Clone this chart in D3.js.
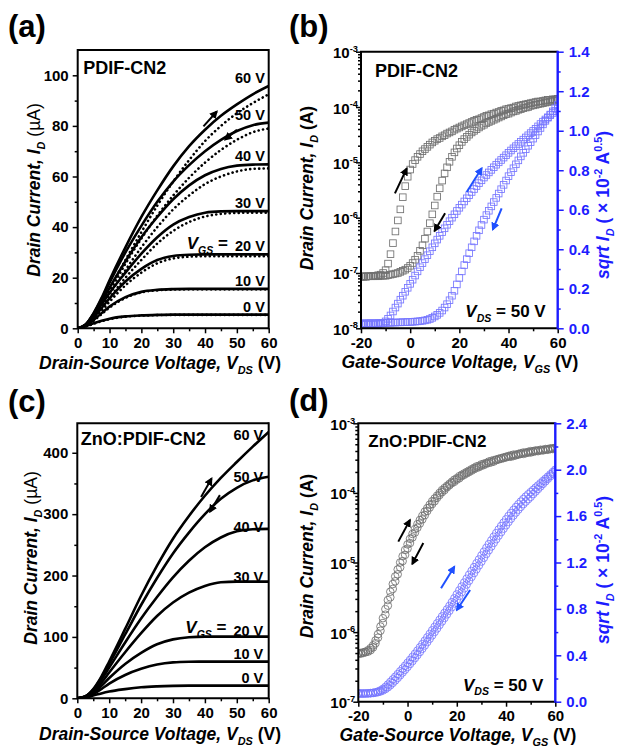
<!DOCTYPE html>
<html>
<head>
<meta charset="utf-8">
<script src="https://cdn.jsdelivr.net/npm/d3@7"></script>
<style>
  body { margin: 0; background: #fff; }
  svg { display: block; }
</style>
</head>
<body>
<svg id="chart" width="618" height="751"></svg>
<script>
// ---------- Output characteristics (panels a, c): I_D (µA) vs V_DS ----------
const vdsSweep = [0, 2.5, 5, 7.5, 10, 15, 20, 25, 30, 35, 40, 45, 50, 55, 60];
const gateLabels = ["0 V", "10 V", "20 V", "30 V", "40 V", "50 V", "60 V"];

// PDIF-CN2, forward sweep (solid), one row per V_GS = 0 ... 60 V
const pdifOutFwd = [
  [0, 0.8, 2.0, 3.0, 3.8, 4.7, 5.1, 5.3, 5.4, 5.4, 5.4, 5.4, 5.4, 5.4, 5.4],
  [0, 1.0, 3.3, 6.0, 8.6, 12.3, 14.4, 15.2, 15.5, 15.6, 15.6, 15.6, 15.6, 15.6, 15.6],
  [0, 1.2, 4.3, 8.0, 11.8, 18.5, 23.5, 27.0, 28.6, 29.1, 29.2, 29.2, 29.2, 29.2, 29.2],
  [0, 1.3, 5.0, 9.5, 14.0, 22.0, 29.5, 36.0, 41.0, 44.0, 45.7, 46.2, 46.3, 46.3, 46.3],
  [0, 1.4, 5.5, 10.5, 16.0, 26.5, 36.0, 44.0, 51.0, 56.5, 60.5, 63.0, 64.3, 64.7, 64.8],
  [0, 1.5, 5.8, 11.5, 18.0, 30.0, 40.5, 50.0, 58.0, 64.5, 70.0, 74.5, 78.0, 80.3, 81.3],
  [0, 1.5, 6.0, 12.0, 19.0, 32.0, 44.0, 54.5, 64.0, 72.0, 78.5, 84.0, 88.5, 92.5, 95.8]
];
// PDIF-CN2, reverse sweep (dotted)
const pdifOutRev = [
  [0, 0.7, 1.8, 2.8, 3.6, 4.6, 5.0, 5.2, 5.3, 5.3, 5.3, 5.3, 5.3, 5.3, 5.3],
  [0, 0.8, 3.0, 5.6, 8.2, 12.0, 14.2, 15.0, 15.3, 15.4, 15.4, 15.4, 15.4, 15.4, 15.4],
  [0, 0.9, 3.5, 7.0, 10.5, 17.0, 22.0, 25.7, 27.6, 28.3, 28.5, 28.5, 28.5, 28.5, 28.5],
  [0, 1.0, 3.8, 7.8, 12.0, 20.0, 27.0, 33.5, 38.5, 42.0, 44.2, 45.2, 45.6, 45.7, 45.7],
  [0, 1.0, 4.0, 8.5, 13.5, 23.0, 32.0, 40.0, 47.0, 52.5, 57.0, 60.0, 62.0, 63.0, 63.2],
  [0, 1.0, 4.3, 9.0, 14.5, 25.5, 35.5, 44.5, 52.5, 59.5, 65.5, 70.5, 74.5, 77.5, 79.0],
  [0, 1.0, 4.5, 9.5, 15.5, 27.0, 38.0, 48.5, 58.0, 66.5, 74.0, 80.0, 85.0, 89.0, 92.5]
];
// ZnO:PDIF-CN2 (forward and reverse coincide)
const znoOut = [
  [0, 1.2, 4.5, 8, 11, 15, 18, 19.5, 20.3, 20.6, 20.6, 20.6, 20.6, 20.6, 20.6],
  [0, 1.8, 7, 15, 24, 38, 48, 55, 58.5, 59.5, 59.7, 59.7, 59.7, 59.7, 59.7],
  [0, 2, 9, 20, 33, 56, 74, 88, 96, 99.5, 100.5, 100.5, 100.5, 100.5, 100.5],
  [0, 2.5, 11, 25, 42, 75, 106, 134, 156, 172, 183, 189, 190, 190, 190],
  [0, 3, 13, 30, 50, 91, 130, 165, 197, 224, 246, 262, 272, 275.5, 276],
  [0, 3, 14, 33, 56, 104, 152, 196, 236, 270, 300, 325, 343, 355, 361],
  [0, 3, 15, 35, 60, 113, 167, 216, 260, 297, 330, 359, 385, 410, 434]
];
// label baselines (µA) for the V_GS tags in panel c
const znoLabelLevels = [25, 64, 101, 190, 271, 352, 421];

// ---------- Transfer characteristics (panels b, d), V_DS = 50 V ----------
const vgsSweep = d3.range(-20, 61, 1);   // gate sweep, 1 V steps

// PDIF-CN2: log10 of I_D (A)
const pdifLogFwd = [
  -7.06, -7.06, -7.06, -7.06, -7.06, -7.05, -7.05, -7.04, -7.03,
  -7.0, -6.95, -6.83, -6.66, -6.46, -6.25, -6.05, -5.85, -5.63, -5.43, -5.26,
  -5.13, -5.03, -4.96, -4.9, -4.85, -4.8, -4.76, -4.72, -4.68, -4.64, -4.61,
  -4.58, -4.56, -4.53, -4.51, -4.48, -4.46, -4.44, -4.41, -4.39, -4.37,
  -4.35, -4.33, -4.31, -4.29, -4.27, -4.25, -4.23, -4.22, -4.2, -4.18,
  -4.16, -4.15, -4.13, -4.12, -4.1, -4.09, -4.07, -4.06, -4.04, -4.03,
  -4.02, -4.01, -3.99, -3.98, -3.97, -3.96, -3.95, -3.94, -3.93, -3.92,
  -3.91, -3.9, -3.9, -3.89, -3.88, -3.87, -3.87, -3.86, -3.86, -3.85
];
const pdifLogRev = [
  -7.07, -7.07, -7.07, -7.06, -7.06, -7.06, -7.06, -7.06, -7.05, -7.05, -7.05,
  -7.04, -7.03, -7.02, -7.01, -7.0, -6.98, -6.96, -6.94, -6.91, -6.87,
  -6.82, -6.76, -6.69, -6.6, -6.5, -6.38, -6.25, -6.1, -5.94, -5.78,
  -5.62, -5.47, -5.33, -5.2, -5.09, -4.99, -4.9, -4.82, -4.75, -4.69,
  -4.63, -4.58, -4.54, -4.5, -4.46, -4.43, -4.4, -4.37, -4.34, -4.32,
  -4.29, -4.27, -4.25, -4.23, -4.21, -4.19, -4.17, -4.15, -4.13, -4.12,
  -4.1, -4.08, -4.07, -4.05, -4.04, -4.02, -4.01, -4.0, -3.98, -3.97,
  -3.96, -3.95, -3.94, -3.93, -3.92, -3.91, -3.9, -3.89, -3.88, -3.86
];
// PDIF-CN2: sqrt(I_D) in units of 1e-2 A^0.5
const pdifSqrtFwd = [
  0.02, 0.02, 0.02, 0.02, 0.02, 0.02, 0.021, 0.021,
  0.023, 0.027, 0.035, 0.048, 0.065, 0.085, 0.105, 0.125, 0.145, 0.165, 0.185, 0.205, 0.225,
  0.246, 0.267, 0.288, 0.309, 0.33, 0.35, 0.37, 0.39, 0.41, 0.43,
  0.449, 0.468, 0.487, 0.506, 0.524, 0.542, 0.56, 0.577, 0.594, 0.61,
  0.626, 0.642, 0.658, 0.674, 0.69, 0.705, 0.72, 0.735, 0.749, 0.763,
  0.776, 0.789, 0.802, 0.815, 0.828, 0.84, 0.852, 0.864, 0.876, 0.888,
  0.9, 0.911, 0.922, 0.933, 0.944, 0.955, 0.966, 0.977, 0.988, 0.999,
  1.01, 1.022, 1.034, 1.046, 1.057, 1.068, 1.079, 1.09, 1.1, 1.11
];
const pdifSqrtRev = [
  0.025, 0.025, 0.025, 0.026, 0.026, 0.026, 0.026, 0.027, 0.027, 0.027,
  0.027, 0.028, 0.028, 0.029, 0.029, 0.03, 0.03, 0.031, 0.031, 0.032,
  0.032, 0.033, 0.034, 0.035, 0.036, 0.038, 0.04, 0.043, 0.047, 0.053,
  0.06, 0.068, 0.078, 0.09, 0.105, 0.122, 0.142, 0.165, 0.19, 0.222,
  0.255, 0.288, 0.32, 0.35, 0.38, 0.41, 0.44, 0.468, 0.496, 0.523,
  0.55, 0.573, 0.595, 0.617, 0.639, 0.66, 0.682, 0.704, 0.726, 0.748,
  0.77, 0.79, 0.81, 0.83, 0.85, 0.87, 0.888, 0.906, 0.924, 0.942,
  0.96, 0.978, 0.996, 1.014, 1.032, 1.05, 1.066, 1.082, 1.098, 1.114, 1.13
];

// ZnO:PDIF-CN2: log10 of I_D (A)
const znoLogFwd = [
  -6.30, -6.30, -6.29, -6.28, -6.26, -6.23, -6.19,
  -6.12, -6.03, -5.92, -5.8, -5.67, -5.54, -5.42, -5.31, -5.2, -5.1, -5.0, -4.91, -4.82, -4.74,
  -4.66, -4.59, -4.52, -4.45, -4.39, -4.33, -4.27, -4.22, -4.17, -4.12,
  -4.08, -4.04, -4.0, -3.96, -3.93, -3.9, -3.87, -3.84, -3.81, -3.79,
  -3.76, -3.74, -3.72, -3.7, -3.68, -3.66, -3.64, -3.62, -3.61, -3.59,
  -3.58, -3.57, -3.55, -3.54, -3.53, -3.52, -3.51, -3.5, -3.49, -3.48,
  -3.47, -3.46, -3.45, -3.45, -3.44, -3.43, -3.42, -3.42, -3.41, -3.4,
  -3.4, -3.39, -3.39, -3.38, -3.38, -3.37, -3.37, -3.36, -3.36, -3.35
];
const znoLogRev = [
  -6.31, -6.31, -6.3, -6.29, -6.28, -6.26, -6.22,
  -6.16, -6.08, -5.98, -5.87, -5.75, -5.62, -5.5, -5.38, -5.27, -5.17, -5.07, -4.98, -4.89, -4.8,
  -4.72, -4.64, -4.57, -4.5, -4.44, -4.38, -4.32, -4.26, -4.21, -4.16,
  -4.12, -4.07, -4.03, -3.99, -3.96, -3.92, -3.89, -3.86, -3.84, -3.81,
  -3.79, -3.76, -3.74, -3.72, -3.7, -3.68, -3.66, -3.64, -3.63, -3.61,
  -3.6, -3.58, -3.57, -3.56, -3.55, -3.53, -3.52, -3.51, -3.5, -3.49,
  -3.48, -3.48, -3.47, -3.46, -3.45, -3.44, -3.44, -3.43, -3.42, -3.42,
  -3.41, -3.4, -3.4, -3.39, -3.39, -3.38, -3.38, -3.37, -3.37, -3.36
];
// ZnO:PDIF-CN2: sqrt(I_D) in units of 1e-2 A^0.5
const znoSqrtFwd = [
  0.07, 0.07, 0.07, 0.071, 0.072, 0.074, 0.077, 0.081,
  0.088, 0.097, 0.11, 0.127, 0.148, 0.17, 0.192, 0.215, 0.238, 0.262, 0.286, 0.31, 0.335,
  0.36, 0.386, 0.413, 0.44, 0.468, 0.496, 0.525, 0.554, 0.584, 0.615,
  0.645, 0.675, 0.705, 0.735, 0.765, 0.795, 0.825, 0.858, 0.891, 0.925,
  0.959, 0.993, 1.027, 1.06, 1.094, 1.127, 1.16, 1.193, 1.226, 1.26,
  1.293, 1.326, 1.358, 1.39, 1.422, 1.453, 1.484, 1.514, 1.543, 1.572,
  1.6, 1.627, 1.653, 1.678, 1.702, 1.725, 1.747, 1.768, 1.788, 1.807,
  1.826, 1.845, 1.864, 1.883, 1.902, 1.921, 1.94, 1.96, 1.98, 2.0
];
const znoSqrtRev = [
  0.072, 0.071, 0.071, 0.071, 0.072, 0.073, 0.075, 0.078,
  0.082, 0.088, 0.097, 0.109, 0.124, 0.142, 0.162, 0.183, 0.205, 0.228, 0.252, 0.276, 0.3,
  0.325, 0.35, 0.376, 0.402, 0.429, 0.457, 0.485, 0.514, 0.543, 0.572,
  0.602, 0.632, 0.662, 0.692, 0.722, 0.753, 0.784, 0.815, 0.847, 0.879,
  0.911, 0.944, 0.977, 1.01, 1.043, 1.076, 1.109, 1.142, 1.175, 1.208,
  1.241, 1.274, 1.306, 1.338, 1.37, 1.401, 1.432, 1.462, 1.492, 1.521,
  1.55, 1.578, 1.605, 1.631, 1.656, 1.68, 1.703, 1.725, 1.746, 1.766,
  1.79, 1.812, 1.834, 1.856, 1.878, 1.9, 1.922, 1.944, 1.966, 1.988
];

// sweep-direction arrows, in data units: [x0, y0, x1, y1]
const arrowsA = [[39.5, 79.8, 43.7, 85.7], [50, 78.5, 46.3, 74.6]];
const arrowsC = [[38.8, 328, 42.1, 358], [44.7, 331, 41.6, 304]];
const arrowsBlog = [[-6.2, -5.56, -1.4, -5.11], [14.2, -5.92, 9.9, -6.24]];
const arrowsBsqrt = [[23.0, 0.69, 29.1, 0.81], [37.2, 0.607, 33.6, 0.50]];
const arrowsDlog = [[-3.76, -4.70, 0.99, -4.39], [6.4, -4.72, 1.93, -5.02]];
const arrowsDsqrt = [[13.6, 0.978, 19, 1.164], [25.4, 0.963, 20, 0.79]];

// ---------- drawing ----------
const FONT = '"Liberation Sans", Arial, Helvetica, sans-serif';
const AXIS_BLUE = "#1c1cff";
const MARK_BLUE = "#7676ff";
const MARK_GREY = "#707070";
const ARROW_BLUE = "#1f50ff";
const svg = d3.select("#chart");
const defs = svg.append("defs");

[["headBlack", "#000"], ["headBlue", ARROW_BLUE]].forEach(([id, c]) => {
  defs.append("marker").attr("id", id).attr("viewBox", "0 0 10 10")
    .attr("refX", 8).attr("refY", 5).attr("markerWidth", 4.2).attr("markerHeight", 4.2)
    .attr("orient", "auto").attr("markerUnits", "strokeWidth")
    .append("path").attr("d", "M0,0 L10,5 L0,10 Z").attr("fill", c);
});

// bold text made of styled runs (italic, subscript, superscript)
function rich(parent, parts, o) {
  const size = o.size;
  const t = parent.append("text")
    .attr("x", o.x).attr("y", o.y)
    .attr("text-anchor", o.anchor || "start")
    .attr("fill", o.color || "#000")
    .style("font-family", FONT).style("font-size", size + "px")
    .style("font-weight", o.weight || "bold").style("white-space", "pre");
  if (o.rotate) t.attr("transform", `rotate(${o.rotate},${o.x},${o.y})`);
  let cur = 0;
  parts.forEach(p => {
    const s = p.sub ? size * 0.28 : p.sup ? -size * 0.42 : 0;
    const ts = t.append("tspan").text(p.t).attr("dy", s - cur);
    cur = s;
    if (p.sub || p.sup) ts.style("font-size", (size * 0.62) + "px");
    if (p.it) ts.style("font-style", "italic");
    if (p.w) ts.style("font-weight", p.w);
  });
  return t;
}

function panel(box, id) {
  const g = svg.append("g").attr("transform", `translate(${box.x0},${box.y0})`);
  const w = box.x1 - box.x0, h = box.y1 - box.y0;
  defs.append("clipPath").attr("id", id).append("rect").attr("width", w).attr("height", h);
  const plot = g.append("g").attr("clip-path", `url(#${id})`);
  return { g, plot, w, h };
}

function tidy(sel, color, width) {
  sel.select(".domain").remove();
  sel.selectAll(".tick line").attr("stroke", color).attr("stroke-width", width || 1.5);
  sel.selectAll(".tick text").attr("fill", color)
    .style("font-family", FONT).style("font-size", "15px").style("font-weight", "bold");
}

function ticks(g, axis, transform, color) {
  const s = g.append("g").attr("transform", transform || null).call(axis);
  tidy(s, color || "#000");
  return s;
}

function frame(g, w, h, rightColor) {
  g.append("path").attr("d", `M${w},0 H0 V${h} H${w}`).attr("fill", "none")
    .attr("stroke", "#000").attr("stroke-width", 2);
  g.append("line").attr("x1", w).attr("x2", w).attr("y1", -1).attr("y2", h + 1)
    .attr("stroke", rightColor || "#000").attr("stroke-width", rightColor ? 2.4 : 2);
}

function arrows(plot, list, x, y, color, head) {
  list.forEach(a => {
    plot.append("line")
      .attr("x1", x(a[0])).attr("y1", y(a[1])).attr("x2", x(a[2])).attr("y2", y(a[3]))
      .attr("stroke", color).attr("stroke-width", 2).attr("marker-end", `url(#${head})`);
  });
}

// ----- output panels -----
function outputPanel(box, id, yMax, yMajor, yMinor, fwd, rev, name, nameStyle, labelLevels, vgsLabel, arrowList, labelRight) {
  const { g, plot, w, h } = panel(box, id);
  const x = d3.scaleLinear().domain([0, 60]).range([0, w]);
  const y = d3.scaleLinear().domain([0, yMax]).range([h, 0]);
  const line = d3.line().x((d, i) => x(vdsSweep[i])).y(d => y(d)).curve(d3.curveMonotoneX);

  if (rev) {
    rev.forEach(r => plot.append("path").attr("d", line(r)).attr("fill", "none")
      .attr("stroke", "#000").attr("stroke-width", 2.6).attr("stroke-linecap", "round")
      .attr("stroke-dasharray", "0.1 4.4"));
  }
  fwd.forEach(r => plot.append("path").attr("d", line(r)).attr("fill", "none")
    .attr("stroke", "#000").attr("stroke-width", 2.6));
  arrows(plot, arrowList, x, y, "#000", "headBlack");

  frame(g, w, h);
  ticks(g, d3.axisBottom(x).tickValues([0, 10, 20, 30, 40, 50, 60]).tickSize(5).tickPadding(4).tickFormat(d => String(d)), `translate(0,${h})`);
  ticks(g, d3.axisBottom(x).tickValues([5, 15, 25, 35, 45, 55]).tickSize(3).tickFormat(""), `translate(0,${h})`);
  ticks(g, d3.axisLeft(y).tickValues(yMajor).tickSize(5).tickPadding(4).tickFormat(d => String(d)));
  ticks(g, d3.axisLeft(y).tickValues(yMinor).tickSize(3).tickFormat(""));

  // V_GS tags at the right end of each curve
  gateLabels.forEach((t, i) => {
    const lv = labelLevels ? labelLevels[i] : fwd[i][fwd[i].length - 1];
    g.append("text").attr("x", x(labelRight)).attr("y", y(lv) - (labelLevels ? 0 : 3))
      .attr("text-anchor", "end").text(t)
      .style("font-family", FONT).style("font-size", "14.5px").style("font-weight", "bold");
  });
  rich(g, [{ t: "V", it: true }, { t: "GS", it: true, sub: true }, { t: " =" }],
    { x: vgsLabel[0], y: vgsLabel[1], size: 17 });
  g.append("text").attr("x", nameStyle.x).attr("y", nameStyle.y).text(name)
    .style("font-family", FONT).style("font-size", nameStyle.size + "px")
    .style("font-weight", nameStyle.weight);
  return { g, w, h };
}

// ----- transfer panels -----
function transferPanel(box, id, logMin, sqrtMax, sqrtMajor, sqrtMinor, logF, logR, sqF, sqR, shape, name, nameStyle, arLog, arSqrt) {
  const { g, plot, w, h } = panel(box, id);
  const x = d3.scaleLinear().domain([-20, 60]).range([0, w]);
  const yl = d3.scaleLog().domain([Math.pow(10, logMin), 1e-3]).range([h, 0]);
  const ylog = v => yl(Math.pow(10, v));
  const ys = d3.scaleLinear().domain([0, sqrtMax]).range([h, 0]);

  function marks(vals, yf, color) {
    const grp = plot.append("g").attr("fill", "none").attr("stroke", color).attr("stroke-width", 0.85);
    if (shape === "square") {
      grp.selectAll("rect").data(vals).join("rect")
        .attr("x", (d, i) => x(vgsSweep[i]) - 3.3).attr("y", d => yf(d) - 3.3)
        .attr("width", 6.6).attr("height", 6.6);
    } else {
      grp.selectAll("circle").data(vals).join("circle")
        .attr("cx", (d, i) => x(vgsSweep[i])).attr("cy", d => yf(d)).attr("r", 3.8);
    }
  }
  marks(logF, ylog, MARK_GREY);
  marks(logR, ylog, MARK_GREY);
  marks(sqF, ys, MARK_BLUE);
  marks(sqR, ys, MARK_BLUE);
  arrows(plot, arLog, x, ylog, "#000", "headBlack");
  arrows(plot, arSqrt, x, ys, ARROW_BLUE, "headBlue");

  frame(g, w, h, AXIS_BLUE);
  ticks(g, d3.axisBottom(x).tickValues([-20, 0, 20, 40, 60]).tickSize(5).tickPadding(4).tickFormat(d => String(d)), `translate(0,${h})`);
  ticks(g, d3.axisBottom(x).tickValues([-10, 10, 30, 50]).tickSize(3).tickFormat(""), `translate(0,${h})`);

  const decades = d3.range(logMin, -2, 1);
  const minors = [];
  decades.slice(0, -1).forEach(d => { for (let k = 2; k <= 9; k++) minors.push(k * Math.pow(10, d)); });
  ticks(g, d3.axisLeft(yl).tickValues(decades.map(d => Math.pow(10, d))).tickSize(5).tickFormat(""));
  ticks(g, d3.axisLeft(yl).tickValues(minors).tickSize(3).tickFormat(""));
  decades.forEach(d => {
    rich(g, [{ t: "10" }, { t: String(d), sup: true }],
      { x: -3, y: yl(Math.pow(10, d)) + 6.5, size: 15, anchor: "end" });
  });

  ticks(g, d3.axisRight(ys).tickValues(sqrtMajor).tickSize(6).tickPadding(5).tickFormat(d3.format(".1f")), `translate(${w},0)`, AXIS_BLUE);
  ticks(g, d3.axisRight(ys).tickValues(sqrtMinor).tickSize(3).tickFormat(""), `translate(${w},0)`, AXIS_BLUE);

  rich(g, [{ t: "V", it: true }, { t: "DS", it: true, sub: true }, { t: " = 50 V" }],
    { x: w - 12, y: h - 11, size: 17, anchor: "end" });
  g.append("text").attr("x", nameStyle.x).attr("y", nameStyle.y).text(name)
    .style("font-family", FONT).style("font-size", nameStyle.size + "px")
    .style("font-weight", nameStyle.weight);
  return { g, w, h };
}

const boxA = { x0: 77.7, x1: 268.7, y0: 50, y1: 328.3 };
const boxB = { x0: 361, x1: 557.7, y0: 51.7, y1: 328.3 };
const boxC = { x0: 77.3, x1: 268.7, y0: 423.3, y1: 698.3 };
const boxD = { x0: 358.3, x1: 555.3, y0: 423.3, y1: 701.7 };

outputPanel(boxA, "clipA", 110, [0, 20, 40, 60, 80, 100], [10, 30, 50, 70, 90],
  pdifOutFwd, pdifOutRev, "PDIF-CN2", { x: 5.5, y: 23.5, size: 18, weight: "bold" },
  null, [109, 199], arrowsA, 58.8);
outputPanel(boxC, "clipC", 448, [0, 100, 200, 300, 400], [50, 150, 250, 350],
  znoOut, null, "ZnO:PDIF-CN2", { x: 3.5, y: 22, size: 18, weight: "bold" },
  znoLabelLevels, [108, 210], arrowsC, 58.3);

transferPanel(boxB, "clipB", -8, 1.4, [0, 0.2, 0.4, 0.6, 0.8, 1.0, 1.2, 1.4], [0.1, 0.3, 0.5, 0.7, 0.9, 1.1, 1.3],
  pdifLogFwd, pdifLogRev, pdifSqrtFwd, pdifSqrtRev, "square", "PDIF-CN2",
  { x: 14, y: 25, size: 18, weight: "bold" }, arrowsBlog, arrowsBsqrt);
transferPanel(boxD, "clipD", -7, 2.4, [0, 0.4, 0.8, 1.2, 1.6, 2.0, 2.4], [0.2, 0.6, 1.0, 1.4, 1.8, 2.2],
  znoLogFwd, znoLogRev, znoSqrtFwd, znoSqrtRev, "circle", "ZnO:PDIF-CN2",
  { x: 10, y: 24, size: 17, weight: "bold" }, arrowsDlog, arrowsDsqrt);

// axis titles
const outY = [{ t: "Drain Current, I", it: true }, { t: "D", it: true, sub: true }, { t: " (µA)", w: "normal" }];
const outX = [{ t: "Drain-Source Voltage, V", it: true }, { t: "DS", it: true, sub: true }, { t: " (V)" }];
const trY = [{ t: "Drain Current, I", it: true }, { t: "D", it: true, sub: true }, { t: " (A)" }];
const trX = [{ t: "Gate-Source Voltage, V", it: true }, { t: "GS", it: true, sub: true }, { t: " (V)" }];
const trR = [{ t: "sqrt I", it: true }, { t: "D", it: true, sub: true }, { t: " ( × 10" }, { t: "-2", sup: true }, { t: " A" }, { t: "0.5", sup: true }, { t: ")" }];

rich(svg, outY, { x: 40, y: 190, size: 17.5, anchor: "middle", rotate: -90 });
rich(svg, outY, { x: 37, y: 558, size: 17.5, anchor: "middle", rotate: -90 });
rich(svg, outX, { x: 160, y: 369, size: 17.5, anchor: "middle" });
rich(svg, outX, { x: 160, y: 740, size: 17.5, anchor: "middle" });

rich(svg, trY, { x: 313, y: 188, size: 17.5, anchor: "middle", rotate: -90 });
rich(svg, trY, { x: 313, y: 556, size: 17.5, anchor: "middle", rotate: -90 });
rich(svg, trX, { x: 460, y: 368, size: 17.5, anchor: "middle" });
rich(svg, trX, { x: 458, y: 741, size: 17.5, anchor: "middle" });
rich(svg, trR, { x: 609, y: 205, size: 17.5, anchor: "middle", rotate: -90, color: AXIS_BLUE });
rich(svg, trR, { x: 609, y: 570, size: 17.5, anchor: "middle", rotate: -90, color: AXIS_BLUE });

// panel letters
[["(a)", 8, 37], ["(b)", 289, 37], ["(c)", 8, 412], ["(d)", 289, 411]].forEach(([t, px, py]) => {
  svg.append("text").attr("x", px).attr("y", py).text(t)
    .style("font-family", FONT).style("font-size", "31px").style("font-weight", "bold");
});
</script>
</body>
</html>
